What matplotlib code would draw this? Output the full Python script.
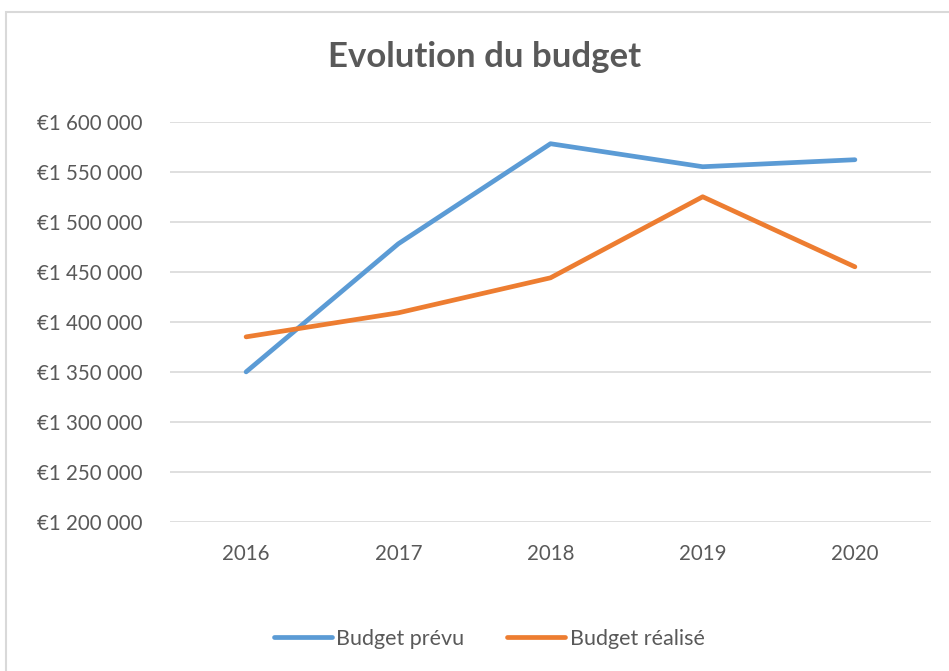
import matplotlib
matplotlib.use('Agg')
import matplotlib.pyplot as plt
from matplotlib.patches import Rectangle
from matplotlib.lines import Line2D
from matplotlib.ticker import FuncFormatter

years = ["2016", "2017", "2018", "2019", "2020"]
budget_prevu = [1350000, 1478000, 1578000, 1555000, 1562000]
budget_realise = [1385000, 1409000, 1444000, 1525000, 1455000]
y_ticks = [1200000, 1250000, 1300000, 1350000, 1400000, 1450000, 1500000, 1550000, 1600000]

BLUE = "#5B9BD5"
ORANGE = "#ED7D31"
TEXT = "#595959"
GRID = "#D9D9D9"

plt.rcParams['font.family'] = ['Lato', 'DejaVu Sans']

W, H = 949, 671
fig = plt.figure(figsize=(W / 100, H / 100), dpi=100)

# chart frame (runs off the right and bottom edges)
fig.patches.append(Rectangle((6 / W, -0.1), 1.2, 1 - 12 / H + 0.1, transform=fig.transFigure,
                             fill=False, edgecolor=GRID, linewidth=1.5))

ax = fig.add_axes([170 / W, 1 - 522 / H, (931 - 170) / W, (522 - 121.7) / H])
x = list(range(len(years)))
ax.plot(x, budget_prevu, color=BLUE, linewidth=3.4, solid_capstyle='round', solid_joinstyle='round', zorder=3)
ax.plot(x, budget_realise, color=ORANGE, linewidth=3.4, solid_capstyle='round', solid_joinstyle='round', zorder=3)

ax.set_xlim(-0.5, len(years) - 0.5)
ax.set_ylim(1200000, 1600000)
ax.set_yticks(y_ticks)
ax.yaxis.set_major_formatter(FuncFormatter(lambda v, p: "€" + f"{int(v):,}".replace(",", " ")))
ax.set_xticks(x)
ax.set_xticklabels(years)
ax.grid(axis='y', color=GRID, linewidth=1.2)
ax.set_axisbelow(True)
for s in ax.spines.values():
    s.set_visible(False)
ax.tick_params(length=0, labelsize=14.8, colors=TEXT)
ax.tick_params(axis='y', pad=20)
ax.tick_params(axis='x', pad=16)

fig.text(485 / W, 1 - 57 / H, "Evolution du budget", ha='center', va='center',
         fontsize=25, fontweight='bold', color=TEXT)

handles = [Line2D([], [], color=BLUE, linewidth=3.4, solid_capstyle='round'),
           Line2D([], [], color=ORANGE, linewidth=3.4, solid_capstyle='round')]
fig.legend(handles, ["Budget prévu", "Budget réalisé"], loc='center', bbox_to_anchor=(489 / W, 1 - 639 / H),
           ncol=2, frameon=False, fontsize=15.5, labelcolor=TEXT, handlelength=2.7,
           handletextpad=0.2, columnspacing=2.0)

fig.savefig("out.png", dpi=100)
